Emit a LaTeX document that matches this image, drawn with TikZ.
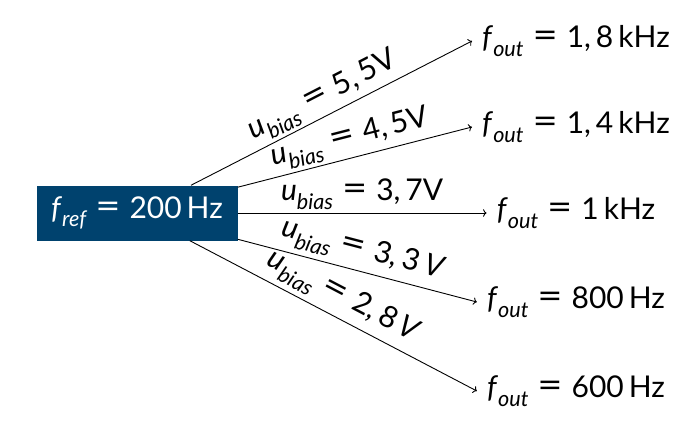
\documentclass[tikz,border=0pt]{standalone}
\usepackage{fontspec}
\setmainfont{Lato}
\usetikzlibrary{positioning,arrows.meta}
\definecolor{refblue}{RGB}{0,66,110}

\newcommand{\lowsub}[1]{\raisebox{-0.28em}{\scalebox{0.72}{\itshape #1}}}
\newcommand{\fvar}[1]{\textit{f}\lowsub{#1}}
\newcommand{\uvar}{\textit{u}\lowsub{bias}}
\newcommand{\eqs}{\hspace{0.3em}\scalebox{1.45}[1.2]{=}\hspace{0.3em}}

\begin{document}
\begin{tikzpicture}[
  x=1pt, y=1pt,
  node distance=86pt,
  font=\fontsize{30}{36}\selectfont,
  src/.style={fill=refblue, text=white, minimum width=201pt, minimum height=55pt, inner sep=0pt},
  outp/.style={inner sep=10pt},
  arr/.style={->, line width=0.9pt},
  lab/.style={sloped, above, midway, inner sep=3pt}
]
  \useasboundingbox (0,0) rectangle (688,432);

  \node[src] (ref) at (137,219) {\fvar{ref}\eqs 200\,Hz};
  \node[outp] (o3) at (576,219) {\fvar{out}\eqs 1\,kHz};
  \node[outp, above of=o3] (o2) {\fvar{out}\eqs 1,\,4\,kHz};
  \node[outp, above of=o2] (o1) {\fvar{out}\eqs 1,\,8\,kHz};
  \node[outp, node distance=89pt, below of=o3] (o4) {\fvar{out}\eqs 800\,Hz};
  \node[outp, node distance=89pt, below of=o4] (o5) {\fvar{out}\eqs 600\,Hz};

  \draw[arr] (ref) -- node[lab] {\uvar\eqs 5,\,5V} (o1.west);
  \draw[arr] (ref) -- node[lab] {\uvar\eqs 4,\,5V} (o2.west);
  \draw[arr] (ref) -- node[lab] {\uvar\eqs 3,\,7V} (o3.west);
  \draw[arr] (ref) -- node[lab, inner sep=5pt] {\uvar\eqs 3,\,3\,\textit{V}} (o4.west);
  \draw[arr] (ref) -- node[lab, inner sep=5pt] {\uvar\eqs 2,\,8\,\textit{V}} (o5.west);
\end{tikzpicture}
\end{document}
